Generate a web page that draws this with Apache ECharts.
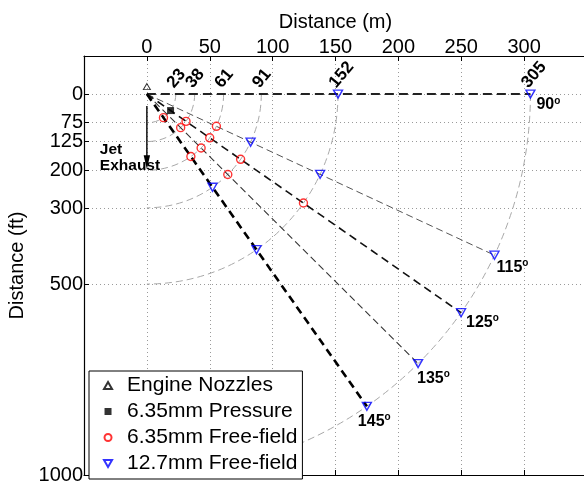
<!DOCTYPE html>
<html>
<head>
<meta charset="utf-8">
<script src="https://cdn.jsdelivr.net/npm/echarts@6/dist/echarts.min.js"></script>
<style>
  html, body { margin: 0; padding: 0; background: #fff; }
  #chart { width: 584px; height: 487px; }
</style>
</head>
<body>
<div id="chart"></div>
<script>
// Microphone layout around the engine nozzles: x in metres, depth in feet.
const FT_PER_M = 3.28084;

const xTickValues = [0, 50, 100, 150, 200, 250, 300];        // m
const yTickValues = [0, 75, 125, 200, 300, 500, 1000];       // ft
const arcRadii = [23, 38, 61, 91, 152, 305];                 // m
const rayAngles = [90, 115, 125, 135, 145];                  // deg from forward
const rayLength = 305;                                       // m

// Measurement positions as [angle (deg), radius (m)]
const engineNozzles = [[0, 6]];
const pressure635 = [[125, 23]];
const freeField635 = [
  [145, 23], [125, 38], [135, 38],
  [145, 61], [135, 61], [125, 61], [115, 61],
  [125, 91], [135, 91], [125, 152]
];
const freeField127 = [
  [115, 91], [145, 91],
  [90, 152], [115, 152], [145, 152],
  [90, 305], [115, 305], [125, 305], [135, 305], [145, 305]
];

// ---- styling / layout ----
const FONT = '"Liberation Sans", Arial, Helvetica, sans-serif';
const rayStyles = [
  { color: '#222', width: 2.0, type: [9, 5] },
  { color: '#555', width: 1.0, type: [7, 4] },
  { color: '#111', width: 1.6, type: [8, 5] },
  { color: '#333', width: 1.1, type: [7, 4] },
  { color: '#000', width: 2.6, type: [8, 5] }
];
// pixel offsets of each angle label from its ray end
const angleLabelOffsets = [[6, 11], [2, 12], [5, 10], [-1, 15], [-9, 15]];
const exhaustArrow = { x: 0, from: 31, to: 197 };            // m, ft, ft
const exhaustText = { x: -37.4, y: 166 };                    // m, ft

function toXY(p) {
  const a = p[0] * Math.PI / 180;
  return [p[1] * Math.sin(a), -p[1] * Math.cos(a) * FT_PER_M];
}

const downTriangle = 'path://M0,0L10,0L5,8.7Z';
const upTriangle = 'path://M5,0L10,8.7L0,8.7Z';
const square = 'path://M0,0L10,0L10,10L0,10Z';

const series = [];

// range rings with their labels
series.push({
  type: 'custom',
  name: 'rings',
  z: 1,
  silent: true,
  data: arcRadii.map(r => [r, 0]),
  renderItem: function (params, api) {
    const r = api.value(0);
    const c = api.coord([0, 0]);
    const px = api.coord([r, 0]);
    const py = api.coord([0, r * FT_PER_M]);
    const rx = px[0] - c[0];
    const ry = py[1] - c[1];
    return {
      type: 'group',
      children: [
        {
          type: 'arc',
          x: c[0], y: c[1], scaleY: ry / rx,
          shape: { cx: 0, cy: 0, r: rx, startAngle: 0, endAngle: Math.PI / 2, clockwise: true },
          style: { stroke: '#a8a8a8', fill: null, lineWidth: 1, lineDash: [7, 4] }
        },
        {
          type: 'text',
          x: px[0] + 1, y: c[1] - 3,
          rotation: 50 * Math.PI / 180,
          style: {
            text: String(r), fill: '#000', fontSize: 17, fontWeight: 'bold', fontFamily: FONT,
            align: 'left', verticalAlign: 'bottom'
          }
        }
      ]
    };
  }
});

// rays from the nozzle
rayAngles.forEach((ang, i) => {
  series.push({
    type: 'line',
    name: 'ray' + ang,
    z: 2,
    silent: true,
    showSymbol: false,
    symbol: 'none',
    data: [[0, 0], toXY([ang, rayLength])],
    lineStyle: rayStyles[i]
  });
});

// angle labels at the ray ends
series.push({
  type: 'custom',
  name: 'angles',
  z: 4,
  silent: true,
  data: rayAngles.map(a => toXY([a, rayLength])),
  renderItem: function (params, api) {
    const p = api.coord([api.value(0), api.value(1)]);
    const off = angleLabelOffsets[params.dataIndex];
    return {
      type: 'text',
      x: p[0] + off[0], y: p[1] + off[1],
      style: {
        text: '{n|' + rayAngles[params.dataIndex] + '}{s|o}',
        align: 'left', verticalAlign: 'middle',
        rich: {
          n: { fontSize: 16, fontWeight: 'bold', fontFamily: FONT, fill: '#000', lineHeight: 18 },
          s: { fontSize: 10, fontWeight: 'bold', fontFamily: FONT, fill: '#000', verticalAlign: 'top', lineHeight: 10 }
        }
      }
    };
  }
});

// jet exhaust annotation
series.push({
  type: 'custom',
  name: 'exhaust',
  z: 4,
  silent: true,
  data: [[exhaustArrow.x, exhaustArrow.from]],
  renderItem: function (params, api) {
    const a = api.coord([exhaustArrow.x, exhaustArrow.from]);
    const b = api.coord([exhaustArrow.x, exhaustArrow.to]);
    const t = api.coord([exhaustText.x, exhaustText.y]);
    const head = 14, hw = 3.2;
    return {
      type: 'group',
      children: [
        { type: 'line', shape: { x1: a[0], y1: a[1], x2: b[0], y2: b[1] - head + 2 },
          style: { stroke: '#000', lineWidth: 1.4 } },
        { type: 'polygon', shape: { points: [[b[0], b[1]], [b[0] - hw, b[1] - head], [b[0] + hw, b[1] - head]] },
          style: { fill: '#000' } },
        { type: 'text', x: t[0], y: t[1],
          style: { text: 'Jet\nExhaust', fill: '#000', fontSize: 15.5, fontWeight: 'bold', fontFamily: FONT,
                   lineHeight: 16, align: 'left', verticalAlign: 'middle' } }
      ]
    };
  }
});

// measurement points
series.push({
  type: 'scatter', name: 'Engine Nozzles', z: 5,
  symbol: upTriangle, symbolSize: [7, 6],
  itemStyle: { color: 'rgba(255,255,255,0)', borderColor: '#000', borderWidth: 1 },
  data: engineNozzles.map(toXY)
});
series.push({
  type: 'scatter', name: '6.35mm Pressure', z: 5,
  symbol: square, symbolSize: 7,
  itemStyle: { color: '#000' },
  data: pressure635.map(toXY)
});
series.push({
  type: 'scatter', name: '6.35mm Free-field', z: 5,
  symbol: 'circle', symbolSize: 8,
  itemStyle: { color: 'rgba(255,255,255,0)', borderColor: '#ff0000', borderWidth: 1.4 },
  data: freeField635.map(toXY)
});
series.push({
  type: 'scatter', name: '12.7mm Free-field', z: 5,
  symbol: downTriangle, symbolSize: [9, 8],
  itemStyle: { color: 'rgba(255,255,255,0)', borderColor: '#0000ff', borderWidth: 1.4 },
  data: freeField127.map(toXY)
});

const gridLine = { show: true, lineStyle: { color: '#9a9a9a', width: 1, type: [1, 3] } };
const axisLineStyle = { show: true, onZero: false, lineStyle: { color: '#000', width: 1.2 } };
const plainNumber = v => String(v);

const option = {
  animation: false,
  backgroundColor: '#fff',
  textStyle: { fontFamily: FONT },
  grid: { left: 84, top: 56, width: 503, height: 419, containLabel: false, outerBoundsMode: 'none' },
  xAxis: [
    {
      type: 'value', position: 'top', min: -50, max: 350, interval: 50,
      name: 'Distance (m)', nameLocation: 'middle', nameGap: 22,
      nameTextStyle: { fontSize: 20, color: '#000', fontFamily: FONT },
      axisLine: axisLineStyle,
      axisTick: { show: true, inside: true, length: 5, customValues: xTickValues, lineStyle: { color: '#000' } },
      axisLabel: { customValues: xTickValues, formatter: plainNumber, fontSize: 20, color: '#000', margin: -1, fontFamily: FONT },
      splitLine: gridLine
    },
    {
      type: 'value', position: 'bottom', min: -50, max: 350, interval: 50,
      axisLine: axisLineStyle,
      axisTick: { show: true, inside: true, length: 5, customValues: xTickValues, lineStyle: { color: '#000' } },
      axisLabel: { show: false },
      splitLine: { show: false }
    }
  ],
  yAxis: [
    {
      type: 'value', inverse: true, min: -100, max: 1000,
      name: 'Distance (ft)', nameLocation: 'middle', nameGap: 46, nameRotate: 90,
      nameTextStyle: { fontSize: 20, color: '#000', fontFamily: FONT },
      axisLine: axisLineStyle,
      axisTick: { show: true, inside: true, length: 5, customValues: yTickValues, lineStyle: { color: '#000' } },
      axisLabel: { customValues: yTickValues, formatter: plainNumber, fontSize: 20, color: '#000', margin: 1, fontFamily: FONT },
      splitLine: gridLine
    }
  ],
  legend: {
    data: ['Engine Nozzles', '6.35mm Pressure', '6.35mm Free-field', '12.7mm Free-field'],
    orient: 'vertical', left: 89, top: 371,
    itemWidth: 28, itemHeight: 7, itemGap: 5,
    padding: [4, 5, 5, 14],
    backgroundColor: '#fff', borderColor: '#000', borderWidth: 1, borderRadius: 0,
    textStyle: { fontSize: 21, color: '#000', fontFamily: FONT, lineHeight: 20 },
    selectedMode: false, z: 10
  },
  series: series
};

const chart = echarts.init(document.getElementById('chart'), null, { renderer: 'canvas' });
chart.setOption(option);
</script>
</body>
</html>
